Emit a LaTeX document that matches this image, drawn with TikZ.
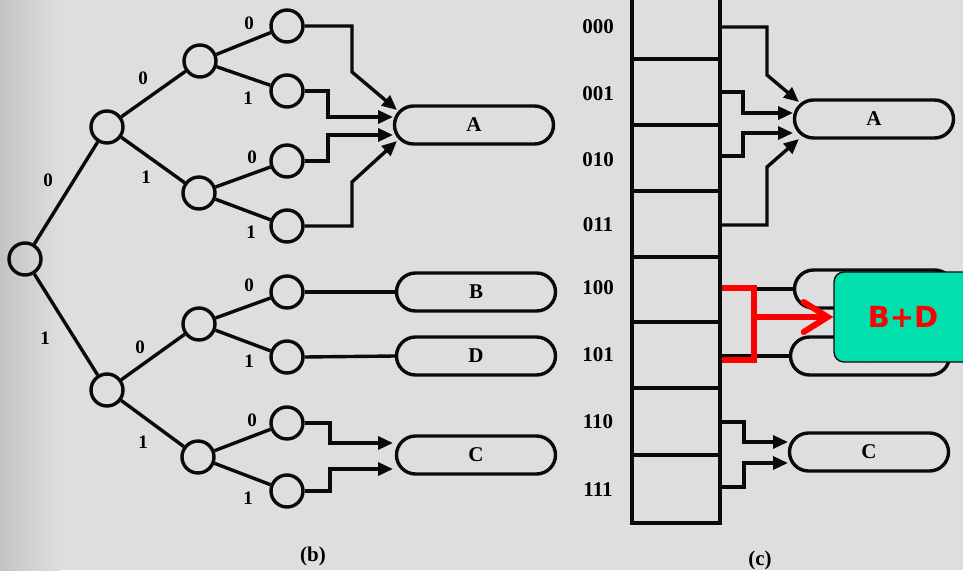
\documentclass[tikz,border=0pt]{standalone}
\usepackage{fontspec}
\setmainfont{Liberation Serif}
\newfontfamily\bdsans{DejaVu Sans}
\usetikzlibrary{arrows.meta}
\definecolor{paper}{RGB}{222,222,222}
\definecolor{paperdark}{RGB}{196,196,196}
\definecolor{ink}{RGB}{10,10,10}
\definecolor{mint}{RGB}{0,224,172}
\definecolor{hired}{RGB}{255,0,0}
\begin{document}
\begin{tikzpicture}[x=1pt,y=-1pt,
 line/.style={draw=ink, line width=3.4pt, line join=miter},
 knot/.style={circle, draw=ink, line width=3.4pt, minimum size=32pt, inner sep=0pt},
 capsule/.style={draw=ink, line width=3.4pt, rounded corners=19pt, minimum width=159pt, minimum height=38pt, inner sep=0pt, font=\fontsize{21}{21}\selectfont\bfseries},
 bit/.style={font=\fontsize{19}{19}\selectfont\bfseries, inner sep=0pt},
 rowlab/.style={font=\fontsize{21}{21}\selectfont\bfseries, inner sep=0pt},
 arr/.style={line, -{Triangle[length=15pt,width=13pt]}},
 redline/.style={draw=hired, line width=6pt},
 greenbox/.style={draw=ink, line width=1.4pt, fill=mint, rounded corners=10pt, inner sep=0pt},
]
\useasboundingbox (0,0) rectangle (963,570);
\fill[paper] (0,0) rectangle (963,570);
\shade[left color=paperdark, right color=paper] (0,0) rectangle (60,570);

% ---------- (b) tree ----------
\node[knot] (root) at (25,259) {};
\node[knot] (u) at (107,127) {};
\node[knot] (l) at (107,390) {};
\node[knot] (uu) at (200,61) {};
\node[knot] (ul) at (199,193) {};
\node[knot] (lu) at (199,324) {};
\node[knot] (ll) at (198,457) {};
\node[knot] (f1) at (287,26) {};
\node[knot] (f2) at (287,91) {};
\node[knot] (f3) at (287,161) {};
\node[knot] (f4) at (287,226) {};
\node[knot] (f5) at (287,292) {};
\node[knot] (f6) at (287,357) {};
\node[knot] (f7) at (287,423) {};
\node[knot] (f8) at (287,491) {};

\draw[line] (root) -- (u);
\draw[line] (root) -- (l);
\draw[line] (u) -- (uu);
\draw[line] (u) -- (ul);
\draw[line] (l) -- (lu);
\draw[line] (l) -- (ll);
\draw[line] (uu) -- (f1);
\draw[line] (uu) -- (f2);
\draw[line] (ul) -- (f3);
\draw[line] (ul) -- (f4);
\draw[line] (lu) -- (f5);
\draw[line] (lu) -- (f6);
\draw[line] (ll) -- (f7);
\draw[line] (ll) -- (f8);

\node[bit] (b1) at (48,180) {0};
\node[bit] (b2) at (45,338) {1};
\node[bit] (b3) at (143,78) {0};
\node[bit] (b4) at (146,177) {1};
\node[bit] (b5) at (249,23) {0};
\node[bit] (b6) at (248,98) {1};
\node[bit] (b7) at (252,157) {0};
\node[bit] (b8) at (251,232) {1};
\node[bit] (b9) at (140,347) {0};
\node[bit] (b10) at (143,442) {1};
\node[bit] (b11) at (249,285) {0};
\node[bit] (b12) at (249,361) {1};
\node[bit] (b13) at (252,420) {0};
\node[bit] (b14) at (248,498) {1};

\node[capsule] (tA) at (474,125) {A};
\node[capsule] (tB) at (476,292) {B};
\node[capsule] (tD) at (476,356) {D};
\node[capsule] (tC) at (476,455) {C};

\coordinate (tA1) at (397,110);
\coordinate (tA2) at (393,117);
\coordinate (tA3) at (393,135);
\coordinate (tA4) at (397,141);
\coordinate (tC1) at (393,443);
\coordinate (tC2) at (393,469);

\draw[arr] (f1.east) -- (352,26) -- (352,72) -- (tA1);
\draw[arr] (f2.east) -- (328,91) -- (328,117) -- (tA2);
\draw[arr] (f3.east) -- (328,161) -- (328,135) -- (tA3);
\draw[arr] (f4.east) -- (352,226) -- (352,182) -- (tA4);
\draw[line] (f5.east) -- (tB.west);
\draw[line] (f6.east) -- (tD.west);
\draw[arr] (f7.east) -- (330,423) -- (330,443) -- (tC1);
\draw[arr] (f8.east) -- (330,491) -- (330,469) -- (tC2);

\node[rowlab] (capb) at (313,556) {(b)};

% ---------- (c) array ----------
\draw[line] (632,-10) -- (632,523) -- (720,523) -- (720,-10);
\foreach \yy in {59,125,191,257,322,388,455}
  \draw[line] (632,\yy) -- (720,\yy);

\node[rowlab] (r0) at (598,27) {000};
\node[rowlab] (r1) at (598,94) {001};
\node[rowlab] (r2) at (598,160) {010};
\node[rowlab] (r3) at (598,225) {011};
\node[rowlab] (r4) at (598,288) {100};
\node[rowlab] (r5) at (598,355) {101};
\node[rowlab] (r6) at (598,422) {110};
\node[rowlab] (r7) at (598,490) {111};

\coordinate (s0) at (720,27);
\coordinate (s1) at (720,92);
\coordinate (s2) at (720,156);
\coordinate (s3) at (720,225);
\coordinate (s4) at (720,289);
\coordinate (s5) at (720,356);
\coordinate (s6) at (720,422);
\coordinate (s7) at (720,487);

\node[capsule] (cA) at (874,119) {A};
\node[capsule] (cB) at (874,289) {B};
\node[capsule] (cD) at (870,356) {D};
\node[capsule] (cC) at (869,452) {C};

\coordinate (cA1) at (799,102);
\coordinate (cA2) at (793,113);
\coordinate (cA3) at (793,133);
\coordinate (cA4) at (799,139);
\coordinate (cC1) at (788,442);
\coordinate (cC2) at (788,463);

\draw[arr] (s0) -- (767,27) -- (767,75) -- (cA1);
\draw[arr] (s1) -- (743,92) -- (743,113) -- (cA2);
\draw[arr] (s2) -- (743,156) -- (743,133) -- (cA3);
\draw[arr] (s3) -- (767,225) -- (767,167) -- (cA4);
\draw[line] (s4) -- (cB.west);
\draw[line] (s5) -- (cD.west);
\draw[arr] (s6) -- (744,422) -- (744,442) -- (cC1);
\draw[arr] (s7) -- (744,487) -- (744,463) -- (cC2);

\node[rowlab] (capc) at (760,560) {(c)};

% ---------- overlay ----------
\node[greenbox, minimum width=146pt, minimum height=90pt] (bd) at (907,317) {};
\node[font=\bdsans\fontsize{29}{29}\selectfont\bfseries, text=hired, inner sep=0pt] (bdt) at (903,317) {B+D};

\coordinate (rb1) at (722,288);
\coordinate (rb2) at (722,360);
\coordinate (rbm) at (754,317);
\draw[redline, line join=miter] (rb1) -- (754,288) -- (754,360) -- (rb2);
\draw[redline, line cap=round, -{Straight Barb[length=24pt,width=30pt, line cap=round]}] (rbm) -- (bd.west);
\end{tikzpicture}
\end{document}
